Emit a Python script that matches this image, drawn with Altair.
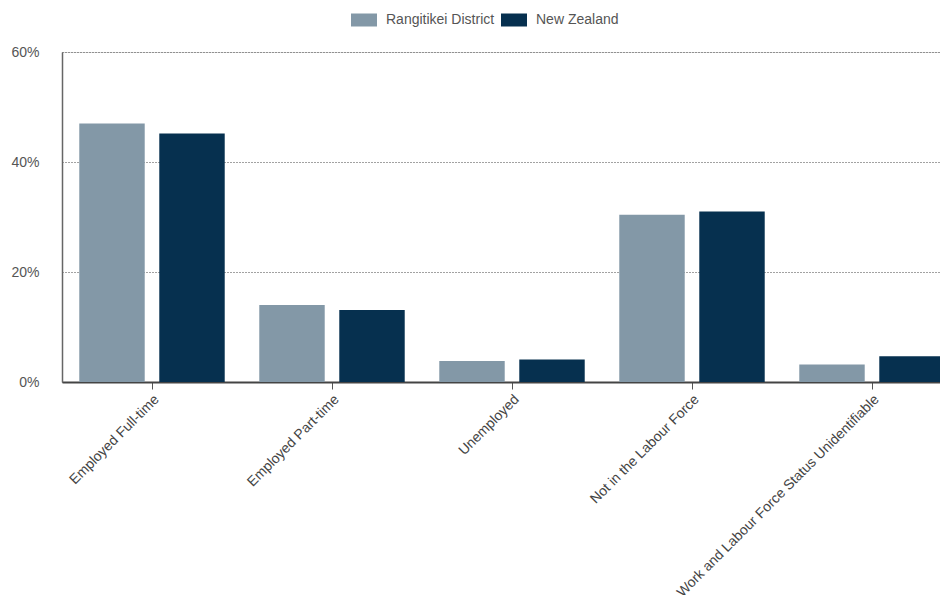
import altair as alt
import pandas as pd

categories = ["Employed Full-time", "Employed Part-time", "Unemployed",
              "Not in the Labour Force", "Work and Labour Force Status Unidentifiable"]
series = ["Rangitikei District", "New Zealand"]
rangitikei = [0.470, 0.140, 0.038, 0.304, 0.032]
new_zealand = [0.452, 0.131, 0.041, 0.310, 0.047]
colors = ["#8398a7", "#06304f"]

rows = []
for c, r, n in zip(categories, rangitikei, new_zealand):
    rows.append({"category": c, "series": series[0], "value": r})
    rows.append({"category": c, "series": series[1], "value": n})
df = pd.DataFrame(rows)

FONT = "Liberation Sans"

chart = alt.Chart(df).mark_bar().encode(
    x=alt.X("category:N", sort=categories, title=None,
            scale=alt.Scale(paddingInner=0, paddingOuter=0),
            axis=alt.Axis(labelAngle=-45, labelFontSize=14, labelColor="#444",
                          labelFont=FONT, domainColor="#444", domainWidth=2,
                          tickColor="#555", tickSize=7, labelPadding=3,
                          labelLimit=400)),
    xOffset=alt.XOffset("series:N", sort=series,
                        scale=alt.Scale(paddingInner=0.182, paddingOuter=0.216)),
    y=alt.Y("value:Q", title=None,
            scale=alt.Scale(domain=[0, 0.6]),
            axis=alt.Axis(format=".0%", values=[0, 0.2, 0.4, 0.6], labelFontSize=14,
                          labelColor="#555", labelFont=FONT, ticks=False,
                          labelPadding=23, domainColor="#666", domainWidth=1.5,
                          grid=True, gridColor="#444", gridDash=[1, 2],
                          gridWidth=1)),
    color=alt.Color("series:N", sort=series,
                    scale=alt.Scale(domain=series, range=colors),
                    legend=alt.Legend(title=None, orient="none", direction="horizontal",
                                      legendX=289, legendY=-45,
                                      symbolType="M-1,-0.5L1,-0.5L1,0.5L-1,0.5Z",
                                      symbolSize=676, symbolStrokeWidth=0,
                                      labelFontSize=14, labelColor="#555",
                                      labelFont=FONT, labelOffset=9,
                                      columnPadding=6)),
).properties(
    width=900, height=330,
    autosize=alt.AutoSizeParams(type="none"),
    padding={"left": 54, "top": 44, "right": -22, "bottom": 213},
).configure_view(stroke=None).configure(background="white")

chart.save("out.html", embed_options={"renderer": "svg", "actions": False})
